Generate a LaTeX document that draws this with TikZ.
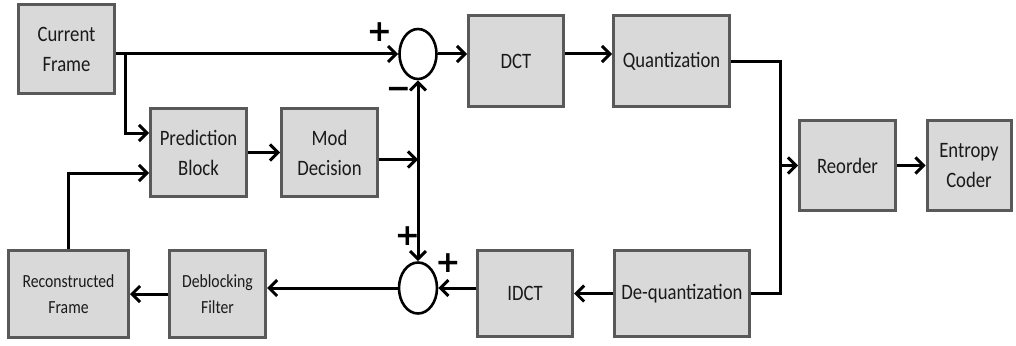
\documentclass[tikz,border=0pt]{standalone}
\usepackage{fontspec}
\setmainfont{Carlito}[FakeStretch=0.85]
\newfontfamily\symfont{DejaVu Sans}
\usetikzlibrary{arrows.meta,shapes.geometric}
\definecolor{boxfill}{HTML}{D9D9D9}
\definecolor{boxline}{HTML}{595959}
\definecolor{txt}{HTML}{1A1A1A}
\begin{document}
\begin{tikzpicture}[x=1pt,y=-1pt,
  blk/.style={draw=boxline, fill=boxfill, line width=3pt, align=center, inner sep=0pt, text=txt, font=\fontsize{22}{30}\selectfont},
  small/.style={font=\fontsize{18.5}{26}\selectfont},
  sumnode/.style={draw=black, ellipse, line width=2.6pt, minimum width=37pt, minimum height=50pt, inner sep=0pt, fill=white},
  wire/.style={draw=black, line width=3pt},
  arr/.style={wire, -{Straight Barb[length=8pt,width=16pt]}},
  sign/.style={font=\symfont\bfseries\fontsize{30}{30}\selectfont, inner sep=0pt, text=black}]
\useasboundingbox[fill=white] (0,0) rectangle (1016,345);
% blocks
\node[blk, minimum width=96pt, minimum height=89pt] (cf) at (66.5,49) {Current\\Frame};
\node[blk, minimum width=96pt, minimum height=88pt] (pb) at (198.5,152.5) {Prediction\\Block};
\node[blk, minimum width=96pt, minimum height=88pt] (md) at (329.5,152.5) {Mod\\Decision};
\node[blk, minimum width=95pt, minimum height=91pt] (dct) at (516,61) {DCT};
\node[blk, minimum width=116pt, minimum height=91pt] (qu) at (671.5,61) {Quantization};
\node[blk, minimum width=96pt, minimum height=90pt] (ro) at (847.5,165.5) {Reorder};
\node[blk, minimum width=84pt, minimum height=90pt] (ec) at (969,165.5) {Entropy\\Coder};
\node[blk, minimum width=135pt, minimum height=86pt] (dq) at (682,293.5) {De-quantization};
\node[blk, minimum width=95pt, minimum height=86pt] (idct) at (525,293.5) {IDCT};
\node[blk, small, minimum width=96pt, minimum height=87pt] (db) at (217.5,294) {Deblocking\\Filter};
\node[blk, small, minimum width=120pt, minimum height=87pt] (rf) at (68.5,294) {Reconstructed\\Frame};
% summing junctions
\node[sumnode] (s1) at (418,54) {};
\node[sumnode, minimum width=38pt, minimum height=51pt] (s2) at (418,288) {};
% signs
\node[sign] (p1) at (379.5,32) {+};
\node[sign] (m1) at (398.5,93) {−};
\node[sign] (p2) at (407.5,236) {+};
\node[sign] (p3) at (448,263) {+};
% helper coordinates
\coordinate (bus) at (780,165.5);
\coordinate (br) at (125,54);
\coordinate (fb) at (68,173);
% connectors
\draw[arr] (cf.east |- s1.west) -- (s1.west);
\draw[arr] (s1.east) -- (s1.east -| dct.west);
\draw[arr] (dct.east |- s1.east) -- (qu.west |- s1.east);
\draw[wire] (qu.east) -| (bus) |- (dq.east);
\draw[arr] (bus) -- (ro.west);
\draw[arr] (ro.east) -- (ec.west);
\draw[arr] (dq.west) -- (dq.west -| idct.east);
\draw[arr] (idct.west |- s2.east) -- (s2.east);
\draw[arr] (s2.west) -- (s2.west -| db.east);
\draw[arr] (db.west) -- (db.west -| rf.east);
\draw[arr] (rf.north -| fb) -- (fb) -- (fb -| pb.west);
\draw[arr] (br) |- ([yshift=19.5pt]pb.west);
\draw[arr] (pb.east) -- (md.west);
\draw[arr] ([yshift=-7pt]md.east) -- ([yshift=-7pt]md.east -| s1.south);
\draw[wire, {Straight Barb[length=8pt,width=16pt]}-{Straight Barb[length=8pt,width=16pt]}] (s1.south) -- (s2.north);
\end{tikzpicture}
\end{document}
